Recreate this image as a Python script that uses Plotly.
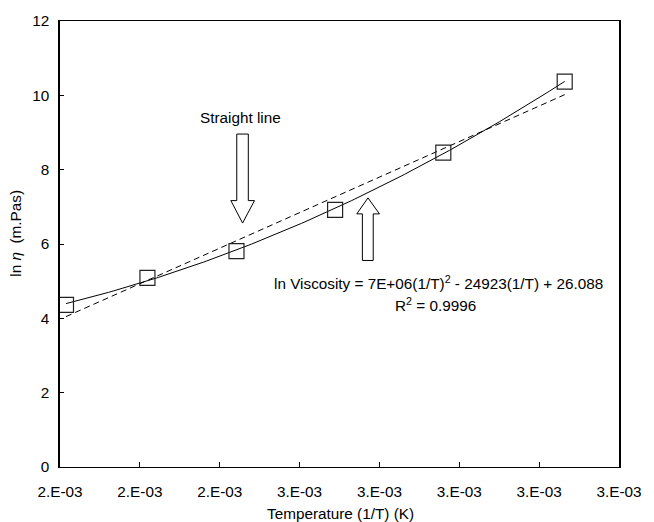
import numpy as np
import plotly.graph_objects as go

# ---- data ----
inv_T = [0.002015, 0.002219, 0.002442, 0.002689, 0.002960, 0.003264]   # 1/T (1/K)
ln_visc = [4.36, 5.09, 5.81, 6.92, 8.46, 10.37]                         # ln eta (m.Pas)

x_tick_vals = [0.0020, 0.0022, 0.0024, 0.0026, 0.0028, 0.0030, 0.0032, 0.0034]
x_tick_text = ["2.E-03", "2.E-03", "2.E-03", "3.E-03", "3.E-03", "3.E-03", "3.E-03", "3.E-03"]
y_tick_vals = [0, 2, 4, 6, 8, 10, 12]

eq_text = "ln Viscosity = 7E+06(1/T)<sup>2</sup> - 24923(1/T) + 26.088"
r2_text = "R<sup>2</sup> = 0.9996"

# ---- fits ----
xa = np.array(inv_T)
ya = np.array(ln_visc)
quad = np.polyfit(xa, ya, 2)
lin = np.polyfit(xa, ya, 1)
xs = np.linspace(xa.min(), xa.max(), 200)

FONT = "Liberation Sans, Arial, sans-serif"
FS = 15.3
fig = go.Figure()

fig.add_trace(go.Scatter(x=xs, y=np.polyval(lin, xs), mode="lines",
                         line=dict(color="black", width=1, dash="6px,4px"),
                         hoverinfo="skip", showlegend=False))
fig.add_trace(go.Scatter(x=xs, y=np.polyval(quad, xs), mode="lines",
                         line=dict(color="black", width=1),
                         hoverinfo="skip", showlegend=False))
fig.add_trace(go.Scatter(x=inv_T, y=ln_visc, mode="markers",
                         marker=dict(symbol="square-open", size=15,
                                     color="#222", line=dict(width=1.2)),
                         showlegend=False))

# plot area in pixels
L, R, T, B = 60, 627, 20, 467
W, H = 654, 522


def px(x, y):
    return (x - L) / (R - L), (B - y) / (B - T)


def arrow_path(pts):
    s = ""
    for i, (x, y) in enumerate(pts):
        xp, yp = px(x, y)
        s += ("M" if i == 0 else "L") + f"{xp:.5f},{yp:.5f} "
    return s + "Z"


down_arrow = [(239.3, 133.3), (251, 133.3), (251, 200), (257.3, 200), (245.2, 222.5),
              (233.3, 200), (239.3, 200)]
up_arrow = [(366.7, 260), (377.7, 260), (377.7, 213.3), (384, 213.3), (372.4, 197.3),
            (361, 213.3), (366.7, 213.3)]
shapes = []
for pts in (down_arrow, up_arrow):
    shapes.append(dict(type="path", xref="paper", yref="paper", path=arrow_path(pts),
                       line=dict(color="black", width=1), fillcolor="white"))

annotations = []


def ann(text, x, y, angle=0, size=FS):
    xp, yp = px(x, y)
    annotations.append(dict(text=text, x=xp, y=yp, xref="paper", yref="paper",
                            showarrow=False, xanchor="center", yanchor="middle",
                            textangle=angle, font=dict(family=FONT, size=size, color="black")))


ann("Straight line", 242.7, 117)
ann(eq_text, 443.8, 282)
ann(r2_text, 440.8, 304)
ann("Temperature (1/T) (K)", 344.5, 514)
ann("ln <i>η</i>  (m.Pas)", 14, 232.5, angle=-90)

fig.update_layout(
    width=W, height=H,
    margin=dict(l=L, r=W - R, t=T, b=H - B),
    paper_bgcolor="white", plot_bgcolor="white",
    font=dict(family=FONT, size=FS, color="black"),
    shapes=shapes, annotations=annotations,
    showlegend=False,
)
fig.update_xaxes(range=[0.0020, 0.0034], tickvals=x_tick_vals, ticktext=x_tick_text,
                 showgrid=False, zeroline=False, showline=True, linecolor="black",
                 linewidth=1, mirror=True, ticks="inside", ticklen=5, tickcolor="black",
                 ticklabelstandoff=11)
fig.update_yaxes(range=[0, 12], tickvals=y_tick_vals, showgrid=False, zeroline=False,
                 showline=True, linecolor="black", linewidth=1.5, mirror=True,
                 ticks="inside", ticklen=4, tickcolor="black", ticklabelstandoff=6)

fig.write_html("out.html")
